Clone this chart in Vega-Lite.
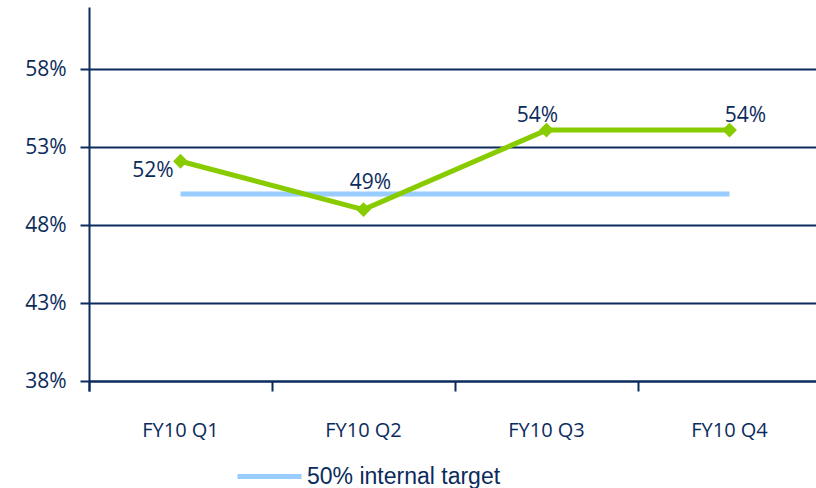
{
  "$schema": "https://vega.github.io/schema/vega-lite/v6.json",
  "autosize": {"type": "none"},
  "padding": {"left": 89, "top": 7, "right": 0, "bottom": 107},
  "width": 732,
  "height": 374,
  "background": "white",
  "config": {
    "view": {"stroke": null},
    "font": "Open Sans"
  },
  "datasets": {
    "main": [
      {"quarter": "FY10 Q1", "share": 0.521, "target": 0.50, "series": "50% internal target"},
      {"quarter": "FY10 Q2", "share": 0.49, "target": 0.50, "series": "50% internal target"},
      {"quarter": "FY10 Q3", "share": 0.541, "target": 0.50, "series": "50% internal target"},
      {"quarter": "FY10 Q4", "share": 0.541, "target": 0.50, "series": "50% internal target"}
    ]
  },
  "data": {"name": "main"},
  "encoding": {
    "x": {
      "field": "quarter", "type": "nominal", "sort": null,
      "scale": {"type": "band", "paddingInner": 0, "paddingOuter": 0},
      "axis": {
        "title": null, "labelAngle": 0, "bandPosition": 0, "tickExtra": true,
        "domainColor": "#0b2b5c", "domainWidth": 2,
        "tickColor": "#0b2b5c", "tickWidth": 2, "tickSize": 10,
        "labelFont": "Open Sans", "labelFontSize": 20, "labelColor": "#0b2b5c",
        "labelPadding": 29, "grid": false
      }
    }
  },
  "layer": [
    {
      "mark": {"type": "line", "strokeWidth": 5, "strokeCap": "butt"},
      "encoding": {
        "y": {
          "field": "target", "type": "quantitative",
          "scale": {"domain": [0.38, 0.62], "nice": false, "zero": false},
          "axis": {
            "title": null, "values": [0.38, 0.43, 0.48, 0.53, 0.58], "format": ".0%",
            "grid": true, "gridColor": "#0b2b5c", "gridWidth": 2, "gridOpacity": 1,
            "domainColor": "#0b2b5c", "domainWidth": 2,
            "tickColor": "#0b2b5c", "tickWidth": 2, "tickSize": 9,
            "labelFont": "Open Sans", "labelFontSize": 21, "labelColor": "#0b2b5c",
            "labelPadding": 14
          }
        },
        "color": {
          "field": "series", "type": "nominal",
          "scale": {"domain": ["50% internal target"], "range": ["#99ccff"]},
          "legend": {
            "title": null, "orient": "none", "legendX": 146, "legendY": 435,
            "symbolType": "stroke", "symbolSize": 4096, "symbolStrokeWidth": 5,
            "labelFont": "Liberation Sans", "labelFontSize": 23, "labelColor": "#0b2b5c",
            "labelOffset": 3, "labelLimit": 0
          }
        }
      }
    },
    {
      "mark": {"type": "line", "color": "#88cc00", "strokeWidth": 5},
      "encoding": {"y": {"field": "share", "type": "quantitative"}}
    },
    {
      "mark": {"type": "point", "shape": "diamond", "filled": true, "color": "#88cc00", "opacity": 1, "size": 220},
      "encoding": {"y": {"field": "share", "type": "quantitative"}}
    },
    {
      "transform": [{"filter": "datum.quarter === 'FY10 Q1'"}],
      "mark": {"type": "text", "align": "right", "baseline": "alphabetic", "dx": -7, "dy": 16, "font": "Open Sans", "fontSize": 21, "color": "#0b2b5c"},
      "encoding": {"y": {"field": "share", "type": "quantitative"}, "text": {"field": "share", "type": "quantitative", "format": ".0%"}}
    },
    {
      "transform": [{"filter": "datum.quarter === 'FY10 Q2'"}],
      "mark": {"type": "text", "align": "center", "baseline": "alphabetic", "dx": 7, "dy": -21, "font": "Open Sans", "fontSize": 21, "color": "#0b2b5c"},
      "encoding": {"y": {"field": "share", "type": "quantitative"}, "text": {"field": "share", "type": "quantitative", "format": ".0%"}}
    },
    {
      "transform": [{"filter": "datum.quarter === 'FY10 Q3'"}],
      "mark": {"type": "text", "align": "center", "baseline": "alphabetic", "dx": -9, "dy": -8, "font": "Open Sans", "fontSize": 21, "color": "#0b2b5c"},
      "encoding": {"y": {"field": "share", "type": "quantitative"}, "text": {"field": "share", "type": "quantitative", "format": ".0%"}}
    },
    {
      "transform": [{"filter": "datum.quarter === 'FY10 Q4'"}],
      "mark": {"type": "text", "align": "center", "baseline": "alphabetic", "dx": 16, "dy": -8, "font": "Open Sans", "fontSize": 21, "color": "#0b2b5c"},
      "encoding": {"y": {"field": "share", "type": "quantitative"}, "text": {"field": "share", "type": "quantitative", "format": ".0%"}}
    }
  ]
}
